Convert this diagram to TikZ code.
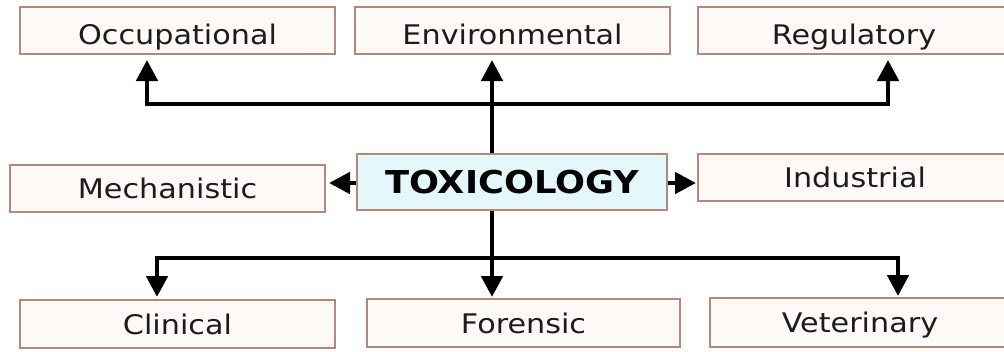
\documentclass[tikz,border=0pt]{standalone}
\usepackage{fontspec}
\newfontfamily\labfont[FakeStretch=1.12]{DejaVu Sans}
\usetikzlibrary{arrows.meta}
\definecolor{bord}{RGB}{178,138,124}
\definecolor{boxfill}{RGB}{253,249,246}
\definecolor{toxfill}{RGB}{228,247,250}
\definecolor{txt}{RGB}{28,28,28}
\tikzset{
  lbox/.style={draw=bord, line width=2pt, fill=boxfill, inner sep=0pt,
    minimum width=315pt, minimum height=47pt, text=txt,
    font=\labfont\fontsize{27}{30}\selectfont, text height=20pt, text depth=0pt},
  topbox/.style={lbox, text height=27pt},
  toxbox/.style={lbox, fill=toxfill, minimum width=310pt, minimum height=56pt,
    font=\labfont\bfseries\fontsize{31.5}{34}\selectfont, text height=23pt, text=black},
  conn/.style={line width=4.8pt, line join=miter, line cap=butt},
  arr/.style={conn, -{Triangle[width=21pt,length=21pt]}}
}
\begin{document}
\begin{tikzpicture}[x=1pt,y=-1pt]
\useasboundingbox (0,0) rectangle (1004,351);
\clip (0,0) rectangle (1004,351);
\fill[white] (0,0) rectangle (1004,351);
% top row
\node[topbox] (occ) at (177.5,30.5) {Occupational};
\node[topbox] (env) at (512.5,30.5) {Environmental};
\node[topbox, minimum width=312pt] (reg) at (854,30.5) {Regulatory};
% middle row
\node[lbox] (mech) at (167.5,188.5) {Mechanistic};
\node[toxbox] (tox) at (512,182) {TOXICOLOGY};
\node[lbox, minimum width=314pt] (ind) at (855,177.5) {Industrial};
% bottom row
\node[lbox, minimum height=48pt] (cli) at (177.5,324) {Clinical};
\node[lbox, minimum width=313pt, minimum height=48pt] (for) at (523.5,323) {Forensic};
\node[lbox, minimum width=300pt, minimum height=49pt] (vet) at (860,322.5) {Veterinary};
% coordinates
\coordinate (vx) at (492,0);
\coordinate (t1) at (147,104);
\coordinate (t2) at (888,104);
\coordinate (b1) at (157,258);
\coordinate (b2) at (898,258);
% upward connectors
\draw[arr, shorten >=5pt] (tox.north -| vx) -- (env.south -| vx);
\draw[conn] (t1) -- (t2);
\draw[arr, shorten >=5pt] ([xshift=-2.4pt]t1) -- (t1) -- (t1 |- occ.south);
\draw[arr, shorten >=5pt] ([xshift=2.4pt]t2) -- (t2) -- (t2 |- reg.south);
% side connectors
\draw[arr, shorten >=3pt] ([yshift=-1pt]tox.west) -- ([yshift=-1pt]tox.west -| mech.east);
\draw[arr, shorten >=1pt] ([yshift=-1pt]tox.east) -- ([yshift=-1pt]tox.east -| ind.west);
% downward connectors
\draw[arr, shorten >=1pt] (tox.south -| vx) -- (for.north -| vx);
\draw[conn] (b1) -- (b2);
\draw[arr, shorten >=2pt] ([xshift=-2.4pt]b1) -- (b1) -- (b1 |- cli.north);
\draw[arr, shorten >=1pt] ([xshift=2.4pt]b2) -- (b2) -- (b2 |- vet.north);
\end{tikzpicture}
\end{document}
